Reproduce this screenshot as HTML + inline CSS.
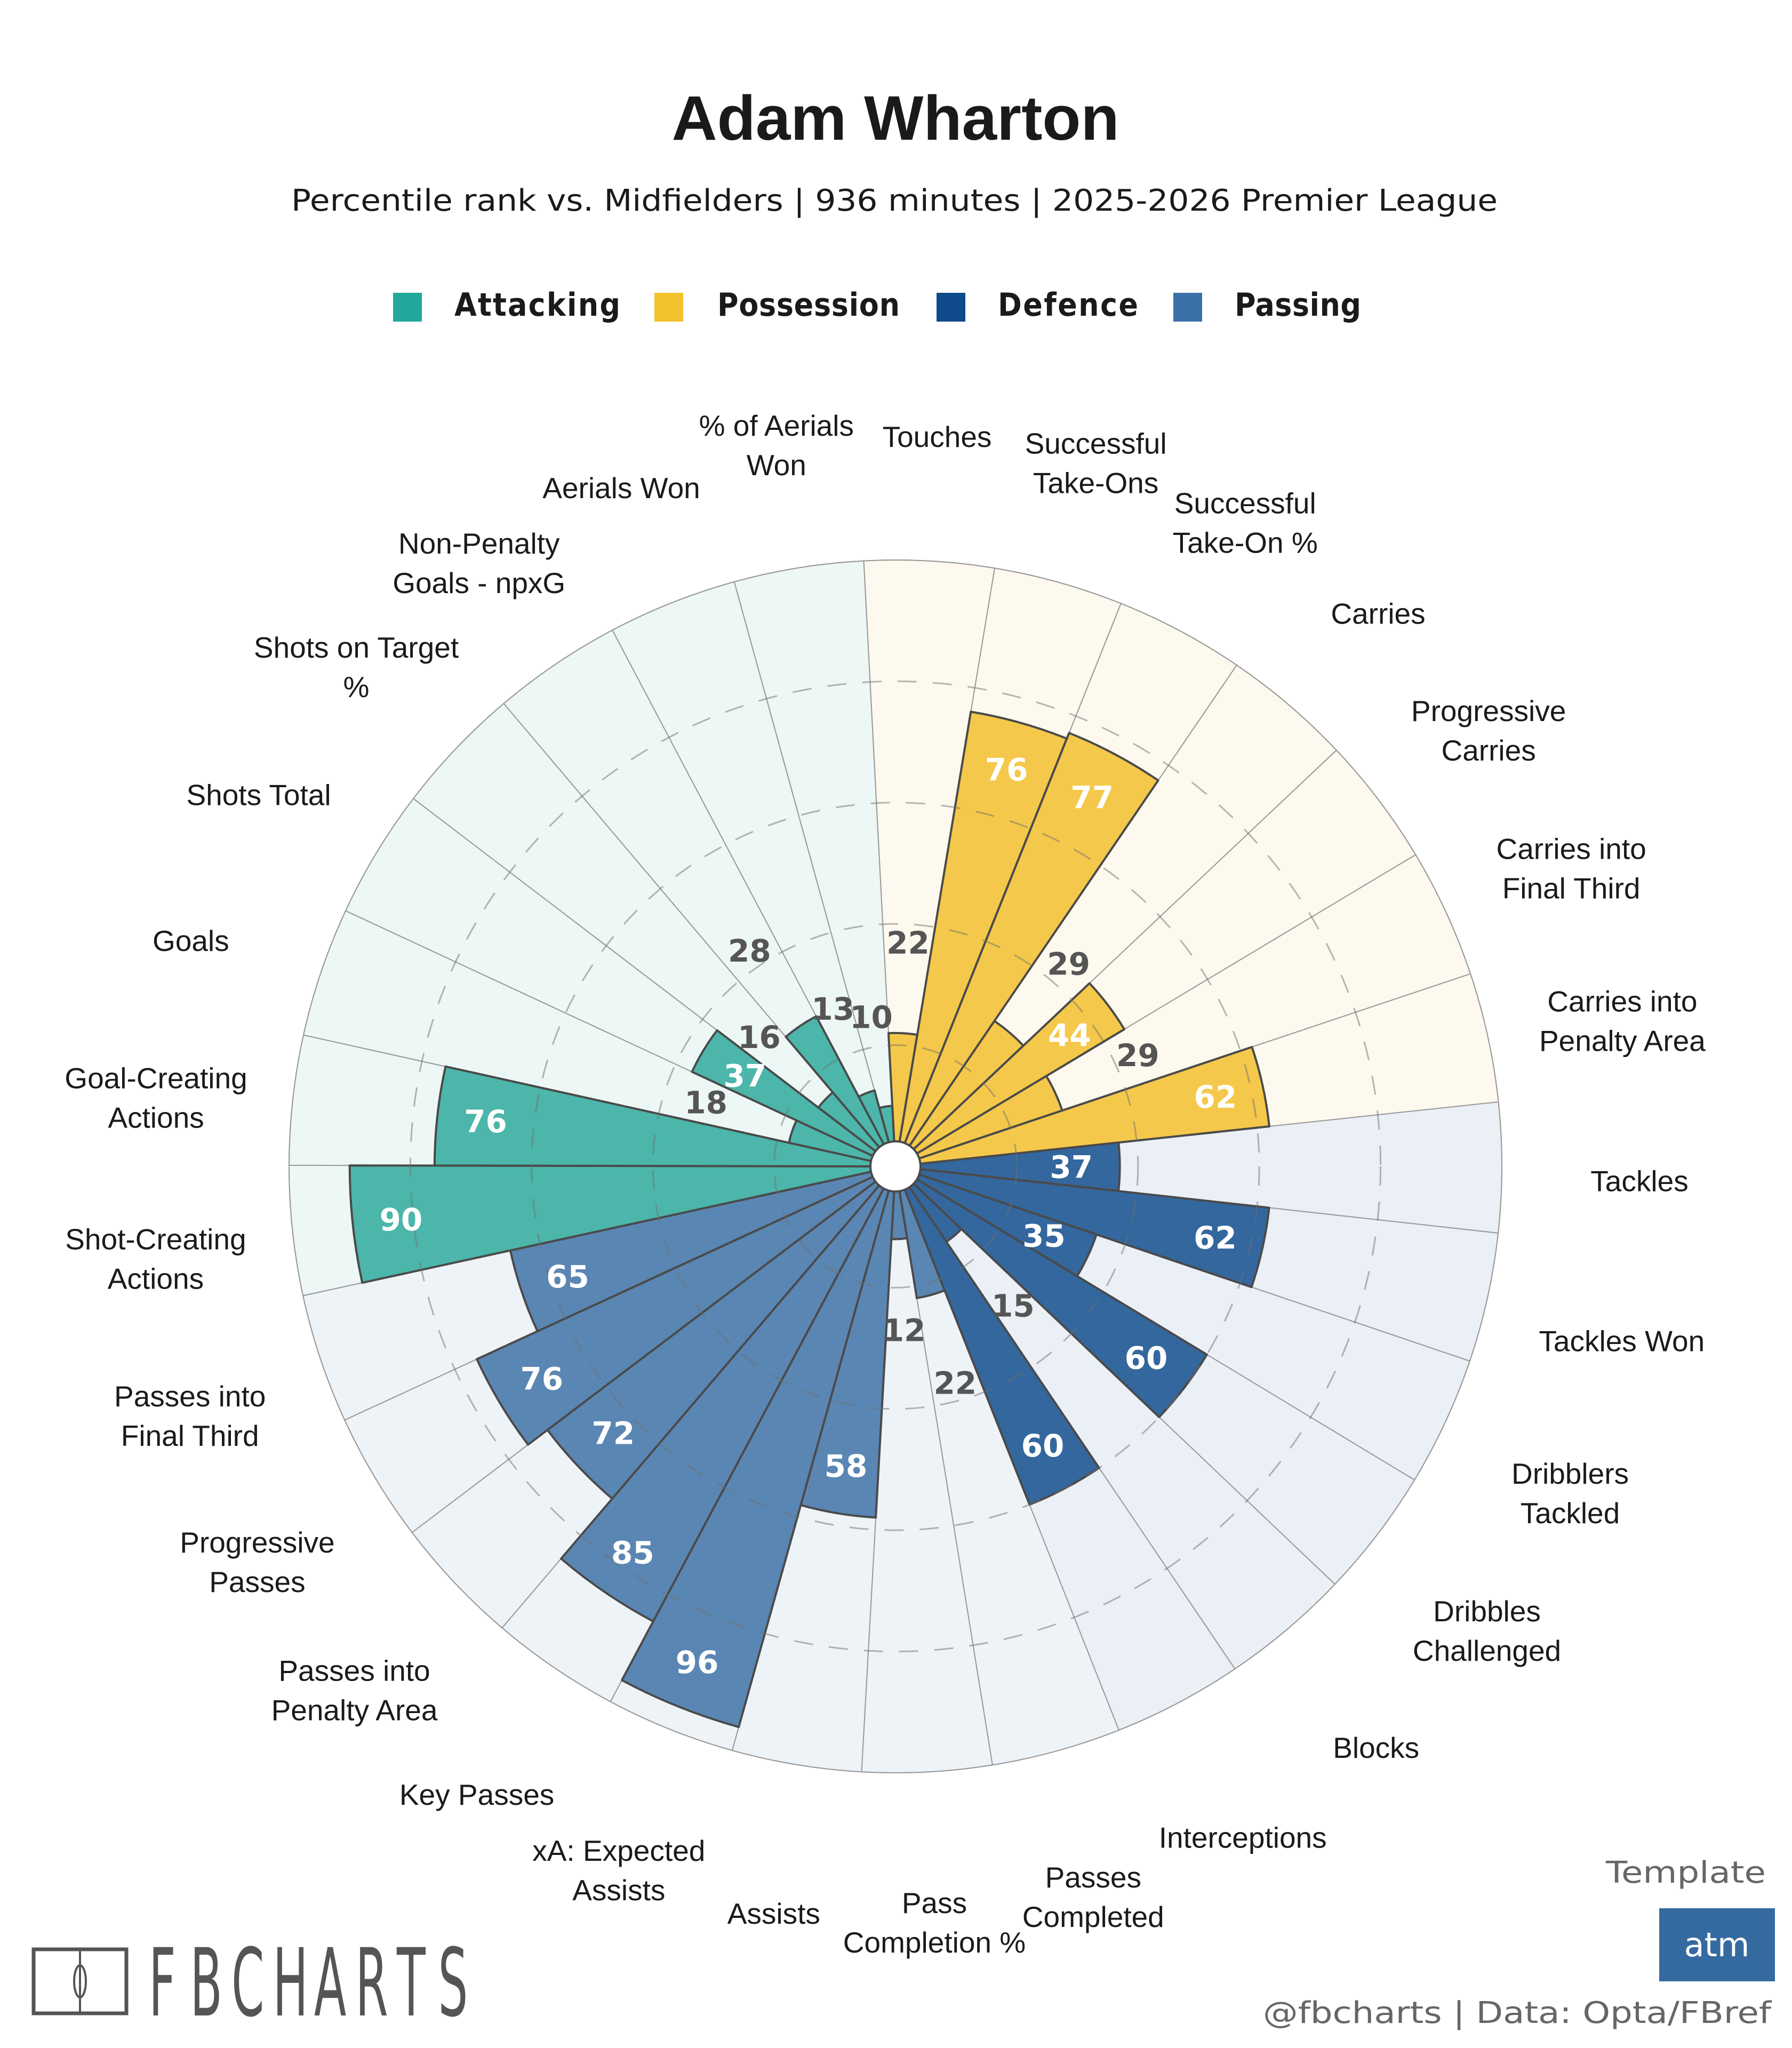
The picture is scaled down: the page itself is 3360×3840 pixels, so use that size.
<!DOCTYPE html>
<html><head><meta charset="utf-8">
<style>
html,body{margin:0;padding:0;background:#fff;}
svg{display:block;}
</style></head>
<body>
<svg id="chart" width="3360" height="3840" viewBox="0 0 3360 3840" xmlns="http://www.w3.org/2000/svg">
  <rect x="0" y="0" width="3360" height="3840" fill="#ffffff"/>
  <text x="1679" y="262" text-anchor="middle" font-family="Liberation Sans, sans-serif" font-weight="bold" font-size="118" fill="#1a1a1a">Adam Wharton</text>
  <text x="1677" y="395" text-anchor="middle" font-family="DejaVu Sans, sans-serif" font-size="56" fill="#1a1a1a" textLength="2262" lengthAdjust="spacingAndGlyphs">Percentile rank vs. Midfielders | 936 minutes | 2025-2026 Premier League</text>

  <g>
    <rect x="737" y="549" width="54" height="54" fill="#22a89a"/>
    <text x="852" y="592" font-family="DejaVu Sans Condensed, DejaVu Sans, sans-serif" font-weight="bold" font-size="60" fill="#1a1a1a" textLength="311" lengthAdjust="spacing">Attacking</text>
    <rect x="1227" y="549" width="54" height="54" fill="#f2c12e"/>
    <text x="1345" y="592" font-family="DejaVu Sans Condensed, DejaVu Sans, sans-serif" font-weight="bold" font-size="60" fill="#1a1a1a" textLength="342" lengthAdjust="spacing">Possession</text>
    <rect x="1756" y="549" width="54" height="54" fill="#0f4a8a"/>
    <text x="1871" y="592" font-family="DejaVu Sans Condensed, DejaVu Sans, sans-serif" font-weight="bold" font-size="60" fill="#1a1a1a" textLength="263" lengthAdjust="spacing">Defence</text>
    <rect x="2200" y="549" width="54" height="54" fill="#3b70a8"/>
    <text x="2315" y="592" font-family="DejaVu Sans Condensed, DejaVu Sans, sans-serif" font-weight="bold" font-size="60" fill="#1a1a1a" textLength="237" lengthAdjust="spacing">Passing</text>
  </g>

  <g id="bgLayer"></g>
  <g id="barLayer"></g>
  <g id="ringLayer"></g>
  <g id="valLayer"></g>
  <g id="catLayer"></g>

  <g>
    <rect x="63" y="3655" width="174" height="120" fill="none" stroke="#555" stroke-width="7"/>
    <line x1="150" y1="3655" x2="150" y2="3775" stroke="#555" stroke-width="4"/>
    <ellipse cx="150" cy="3715" rx="11" ry="30" fill="none" stroke="#555" stroke-width="4"/>
    <text transform="translate(279,3779) scale(0.5,1)" x="0 155 310 465 620 775 930 1085" y="0" font-family="DejaVu Sans, sans-serif" font-size="176" fill="#555">FBCHARTS</text>
  </g>
  <text x="3011" y="3530" font-family="DejaVu Sans, sans-serif" font-size="56" fill="#666" textLength="300" lengthAdjust="spacingAndGlyphs">Template</text>
  <rect x="3111" y="3578" width="217" height="137" fill="#356aa0"/>
  <text x="3219" y="3668" text-anchor="middle" font-family="DejaVu Sans, sans-serif" font-size="62" fill="#ffffff">atm</text>
  <text x="3321" y="3793" text-anchor="end" font-family="DejaVu Sans, sans-serif" font-size="56" fill="#666" textLength="953" lengthAdjust="spacingAndGlyphs">@fbcharts | Data: Opta/FBref</text>
</svg>
<script>
const categories = ["Touches","Successful|Take-Ons","Successful|Take-On %","Carries","Progressive|Carries","Carries into|Final Third","Carries into|Penalty Area","Tackles","Tackles Won","Dribblers|Tackled","Dribbles|Challenged","Blocks","Interceptions","Passes|Completed","Pass|Completion %","Assists","xA: Expected|Assists","Key Passes","Passes into|Penalty Area","Progressive|Passes","Passes into|Final Third","Shot-Creating|Actions","Goal-Creating|Actions","Goals","Shots Total","Shots on Target|%","Non-Penalty|Goals - npxG","Aerials Won","% of Aerials|Won"];
const values = [22,76,77,29,44,29,62,37,62,35,60,15,60,22,12,58,96,85,72,76,65,90,76,18,37,16,28,13,10];
const groups = ["pos","pos","pos","pos","pos","pos","pos","def","def","def","def","def","def","pas","pas","pas","pas","pas","pas","pas","pas","att","att","att","att","att","att","att","att"];
const ringValues = [20,40,60,80];

const NS = "http://www.w3.org/2000/svg";
const CX = 1679, CY = 2187, K = 11.37, START = -3;
const STEP = 360 / categories.length;
const barColor = {att:"#4bb6a9", pos:"#f4c84a", def:"#33679d", pas:"#5a86b3"};
const bgColor = {att:"#edf7f5", pos:"#fdf9ee", def:"#ebf0f7", pas:"#eef3f8"};

function rScale(v){ return K * v; }
function pt(deg, r){ const a = deg * Math.PI / 180; return [CX + r * Math.sin(a), CY - r * Math.cos(a)]; }
function wedge(a0, a1, r){
  const p0 = pt(a0, r), p1 = pt(a1, r);
  return "M" + CX + "," + CY + " L" + p0[0].toFixed(1) + "," + p0[1].toFixed(1) +
    " A" + r + "," + r + " 0 0 1 " + p1[0].toFixed(1) + "," + p1[1].toFixed(1) + " Z";
}
function mk(tag, attrs){ const e = document.createElementNS(NS, tag); for (const k in attrs) e.setAttribute(k, attrs[k]); return e; }

const bgL = document.getElementById("bgLayer"), barL = document.getElementById("barLayer"),
      ringL = document.getElementById("ringLayer"), valL = document.getElementById("valLayer"),
      catL = document.getElementById("catLayer");

categories.forEach((c, i) => {
  const a0 = START + i * STEP, a1 = a0 + STEP;
  const bg = mk("path", {d: wedge(a0, a1, rScale(100)), fill: bgColor[groups[i]], stroke: "#9a9a9a", "stroke-width": 2});
  
  
  bgL.appendChild(bg);

  const bar = mk("path", {d: wedge(a0, a1, rScale(values[i])), fill: barColor[groups[i]], stroke: "#4a4a4a", "stroke-width": 4, "stroke-linejoin": "round"});
  
  
  barL.appendChild(bar);

  const mid = a0 + STEP / 2;
  const inside = values[i] > 30;
  const lp = pt(mid, rScale(inside ? values[i] - 8 : values[i] + 15));
  const vt = mk("text", {x: lp[0].toFixed(1), y: (lp[1] + 21).toFixed(1), "text-anchor": "middle",
    "font-family": "DejaVu Sans, sans-serif", "font-weight": "bold", "font-size": 58,
    fill: inside ? "#ffffff" : "#555555"});
  vt.textContent = values[i];
  
  
  valL.appendChild(vt);

  const lines = c.split("|");
  const cp = pt(mid, 1395);
  const cy = cp[1] + 25;
  const ct = mk("text", {"text-anchor": "middle", "font-family": "Liberation Sans, sans-serif", "font-size": 55, fill: "#1a1a1a"});
  const lh = 74;
  const y0 = cy - (lines.length - 1) * lh / 2 + 19;
  lines.forEach((ln, j) => {
    const ts = mk("tspan", {x: cp[0].toFixed(1), y: (y0 + j * lh).toFixed(1)});
    ts.textContent = ln;
    ct.appendChild(ts);
  });
  
  
  catL.appendChild(ct);
});

ringValues.forEach(v => {
  const ring = mk("circle", {cx: CX, cy: CY, r: rScale(v), fill: "none", stroke: "#6f6f6f", "stroke-opacity": 0.5, "stroke-width": 3, "stroke-dasharray": "36 30"});
  
  
  ringL.appendChild(ring);
});

const outer = mk("circle", {cx: CX, cy: CY, r: rScale(100), fill: "none", stroke: "#9a9a9a", "stroke-width": 2});


ringL.appendChild(outer);

const hole = mk("circle", {cx: CX, cy: CY, r: 47, fill: "#ffffff", stroke: "#4a4a4a", "stroke-width": 4});


ringL.appendChild(hole);
</script>
</body></html>
